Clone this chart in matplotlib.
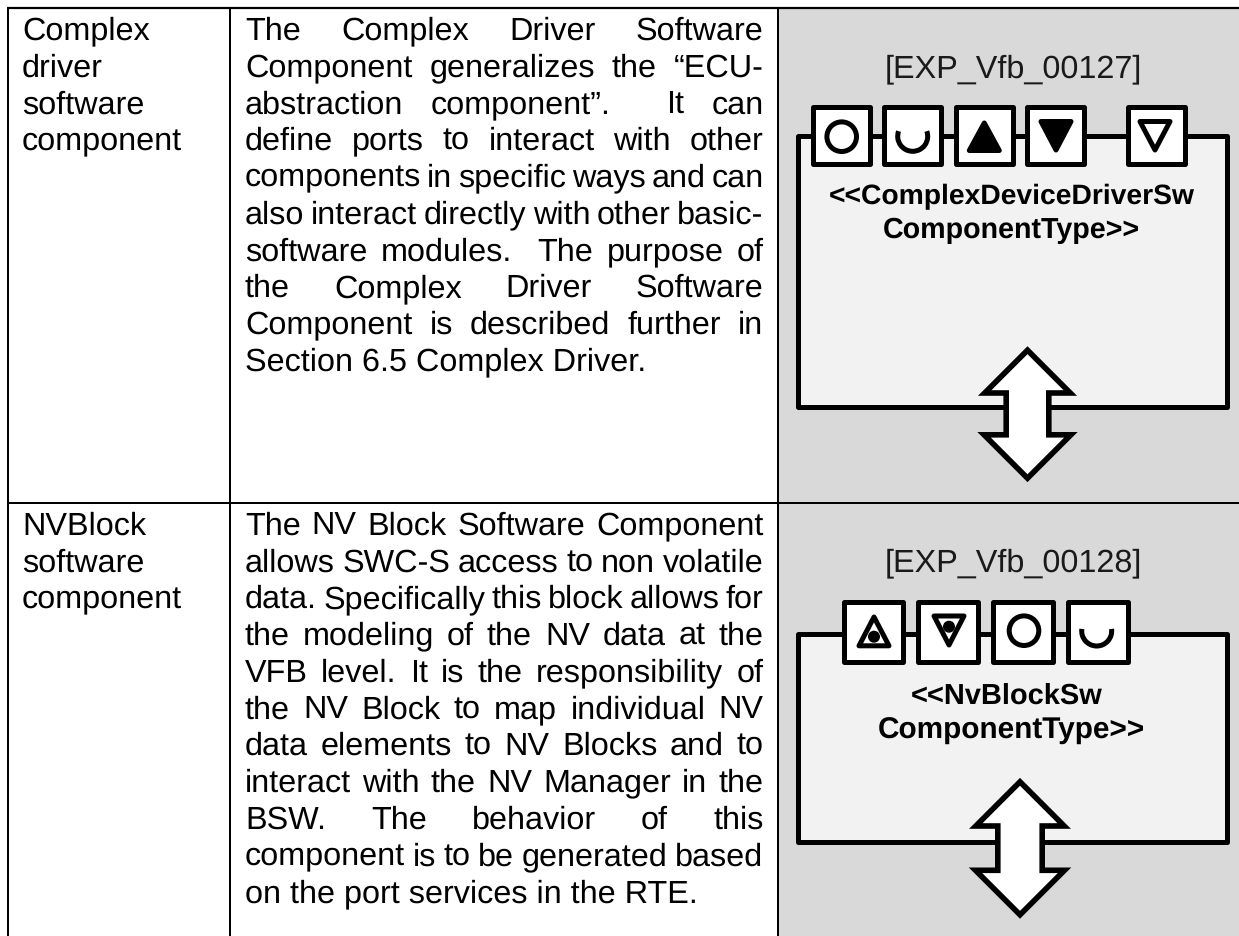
import matplotlib
matplotlib.use("Agg")
import matplotlib.pyplot as plt
from matplotlib.patches import Rectangle, Circle, Polygon, Arc

W, H = 1239, 936
plt.rcParams['font.family'] = ['Liberation Sans', 'DejaVu Sans']
plt.rcParams['text.hinting'] = 'no_hinting'

# ---- table content
row_names = [["Complex", "driver", "software", "component"],
             ["NVBlock", "software", "component"]]
desc_1 = ["The Complex Driver Software",
          "Component generalizes the “ECU-",
          "abstraction component”.  It can",
          "define ports to interact with other",
          "components in specific ways and can",
          "also interact directly with other basic-",
          "software modules.  The purpose of",
          "the Complex Driver Software",
          "Component is described further in",
          "Section 6.5 Complex Driver."]
desc_2 = ["The NV Block Software Component",
          "allows SWC-S access to non volatile",
          "data. Specifically this block allows for",
          "the modeling of the NV data at the",
          "VFB level. It is the responsibility of",
          "the NV Block to map individual NV",
          "data elements to NV Blocks and to",
          "interact with the NV Manager in the",
          "BSW. The behavior of this",
          "component is to be generated based",
          "on the port services in the RTE."]
req_ids = ["[EXP_Vfb_00127]", "[EXP_Vfb_00128]"]
type_1 = ["<<ComplexDeviceDriverSw", "ComponentType>>"]
type_2 = ["<<NvBlockSw", "ComponentType>>"]

GREY, PANEL, BLACK = "#D9D9D9", "#F2F2F2", "#000000"
FS = 23.3
LH = 36.75
px = 0.72
LW = 5 * px

fig = plt.figure(figsize=(W / 100, H / 100), dpi=100)
ax = fig.add_axes([0, 0, 1, 1])
ax.set_xlim(0, W)
ax.set_ylim(H, 0)
ax.axis("off")

# ---- grey column and grid
ax.add_patch(Rectangle((778, 8), W - 778, H - 8, fc=GREY, ec="none", zorder=0))
for x in (8.3, 230.3, 778.3):
    ax.plot([x, x], [6.5, H], color=BLACK, lw=2 * px, zorder=1, solid_capstyle="butt")
ax.plot([7.3, W], [7.5, 7.5], color=BLACK, lw=2.2 * px, zorder=1, solid_capstyle="butt")
ax.plot([7.3, W], [502.8, 502.8], color=BLACK, lw=2 * px, zorder=1, solid_capstyle="butt")

# ---- text helpers
renderer = fig.canvas.get_renderer()


def width(s):
    t = ax.text(0, 0, s, fontsize=FS)
    w = t.get_window_extent(renderer).width
    t.remove()
    return w


def draw_left(lines, x, y0):
    for i, s in enumerate(lines):
        ax.text(x, y0 + i * LH, s, fontsize=FS, ha="left", va="baseline", color="#000000")


def draw_just(lines, x0, x1, y0):
    for i, s in enumerate(lines):
        y = y0 + i * LH
        if i == len(lines) - 1:
            ax.text(x0, y, s, fontsize=FS, va="baseline")
            continue
        # a double space in the source is kept as a wider gap
        chunks = s.replace("  ", " \u00a0").split(" ")
        ws = [width(c.replace("\u00a0", "")) for c in chunks]
        units = [2 if "\u00a0" in c else 1 for c in chunks[1:]]
        gap = (x1 - x0 - sum(ws)) / sum(units)
        x = x0
        for c, w, u in zip(chunks, ws, [0] + units):
            x += gap * u
            ax.text(x, y, c.replace("\u00a0", ""), fontsize=FS, va="baseline")
            x += w


draw_left(row_names[0], 22, 39.7)
draw_left(row_names[1], 22, 534.5)
draw_just(desc_1, 245, 763.5, 39.7)
draw_just(desc_2, 245, 763.5, 534.5)


# ---- diagram helpers
def port(x0, x1, y0, y1):
    ax.add_patch(Rectangle((x0 + 2.5, y0 + 2.5), x1 - x0 - 5, y1 - y0 - 5, fc="white", ec=BLACK,
                           lw=LW, joinstyle="round", zorder=4))


def tri(xs, ys, fill):
    ax.add_patch(Polygon(list(zip(xs, ys)), closed=True, fc="black" if fill else "none", ec=BLACK,
                         lw=LW, joinstyle="round", zorder=5))


def up_tri(cx, y0, y1, half, fill):
    tri([cx, cx - half, cx + half], [y0 + 3, y1 - 2.5, y1 - 2.5], fill)


def down_tri(cx, y0, y1, half, fill):
    tri([cx, cx - half, cx + half], [y1 - 3, y0 + 2.5, y0 + 2.5], fill)


def ring(cx, cy):
    ax.add_patch(Circle((cx, cy), 14.8, fc="none", ec=BLACK, lw=LW, zorder=5))


def cup(cx, cy, over):
    # inverted y axis: angles run clockwise on screen
    ax.add_patch(Arc((cx, cy), 30, 30, theta1=-over, theta2=180 + over, ec=BLACK, lw=LW, zorder=5))


def arrow(cx, top, wing1, wing2, bot, half_shaft):
    d1 = wing1 - top
    d2 = bot - wing2
    pts = [(cx, top), (cx + d1, wing1), (cx + half_shaft, wing1), (cx + half_shaft, wing2),
           (cx + d2, wing2), (cx, bot), (cx - d2, wing2), (cx - half_shaft, wing2),
           (cx - half_shaft, wing1), (cx - d1, wing1)]
    ax.add_patch(Polygon(pts, closed=True, fc="white", ec=BLACK, lw=5.6 * px, joinstyle="miter", zorder=6))


def panel(y0, y1):
    ax.add_patch(Rectangle((798, y0), 1226.7 - 798, y1 - y0, fc=PANEL, ec=BLACK, lw=LW,
                           joinstyle="round", zorder=2))


def bold(s, cx, y, fs):
    ax.text(cx, y, s, ha="center", va="baseline", zorder=7, fontsize=fs, fontweight="bold")


# ---- upper diagram
ax.text(1013, 77, req_ids[0], fontsize=FS, ha="center", va="baseline", color="#1a1a1a")
panel(136, 406.7)
for x0, x1 in [(810.7, 872.7), (881, 943.3), (953.3, 1015.7), (1024, 1086), (1125, 1187.3)]:
    port(x0, x1, 104, 166)
ring(841.7, 136.7)
cup(912.7, 136.3, 20)
up_tri(984.3, 120, 153, 15, True)
down_tri(1056, 119, 153, 15, True)
down_tri(1155, 119, 153, 15, False)
bold(type_1[0], 1012, 204, 20.3)
bold(type_1[1], 1011, 237.5, 20.6)
arrow(1027.5, 350.2, 393, 434.8, 478.2, 21.3)

# ---- lower diagram
ax.text(1013, 571.7, req_ids[1], fontsize=FS, ha="center", va="baseline", color="#1a1a1a")
panel(634, 841.7)
for x0, x1 in [(841, 905.7), (915.7, 980.7), (990.7, 1055.7), (1065.7, 1130.7)]:
    port(x0, x1, 599.3, 664)
up_tri(874, 614, 648.3, 15, False)
ax.add_patch(Circle((874, 636.7), 6, fc="black", ec="none", zorder=6))
down_tri(949, 613.5, 648, 15, False)
ax.add_patch(Circle((949, 626.7), 6, fc="black", ec="none", zorder=6))
ring(1024, 630.7)
cup(1096.7, 631, 8)
bold(type_2[0], 1006.7, 704, 20.9)
bold(type_2[1], 1011.5, 738.5, 21.4)
arrow(1020, 781.8, 826, 870.3, 914.8, 22.2)

fig.savefig("out.png", dpi=100)
